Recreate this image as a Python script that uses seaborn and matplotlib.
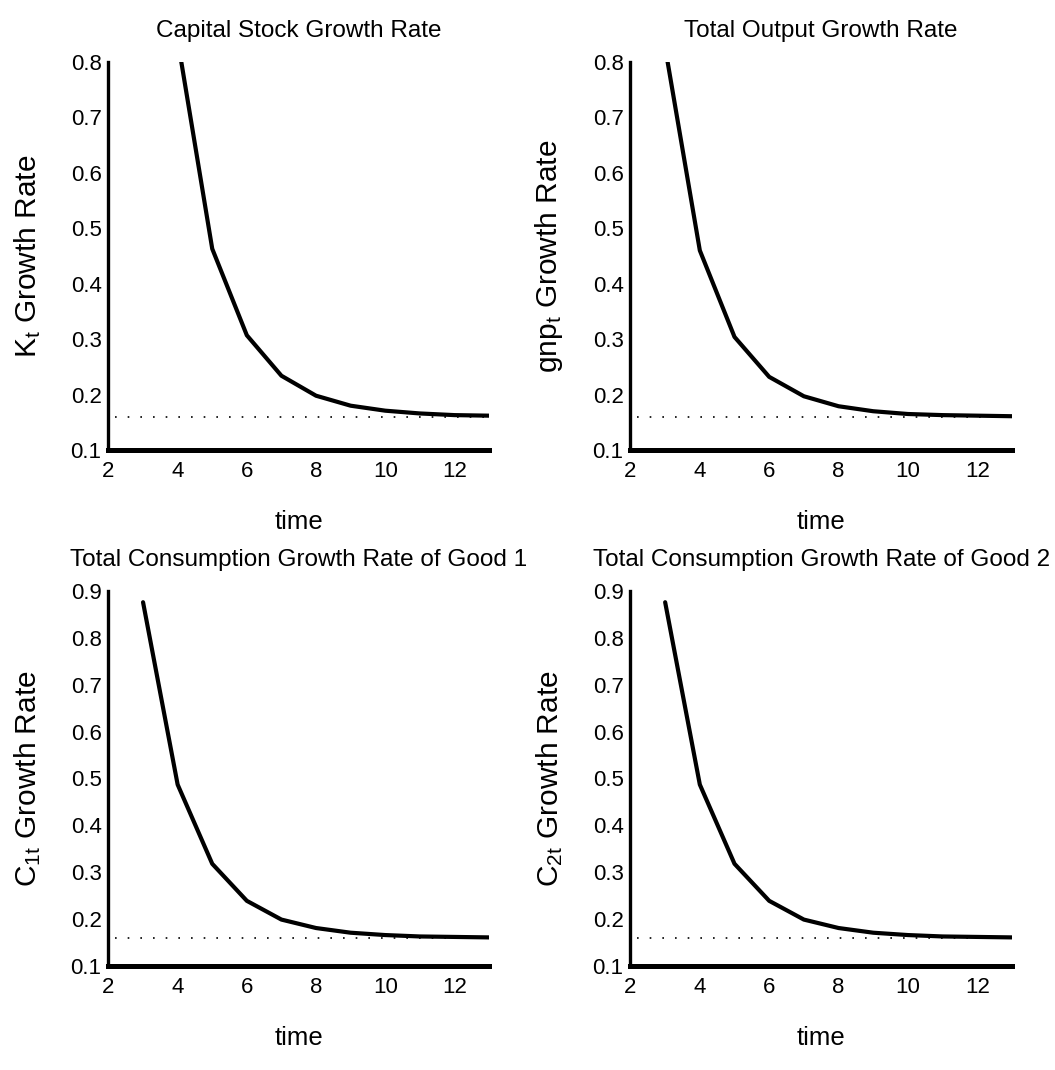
import numpy as np
import pandas as pd
import matplotlib
matplotlib.use("Agg")
import matplotlib.pyplot as plt
import seaborn as sns

# Transition paths of growth rates towards the balanced growth path
t_capital = [4, 5, 6, 7, 8, 9, 10, 11, 12, 13]
g_capital = [0.84, 0.463, 0.307, 0.234, 0.198, 0.180, 0.171, 0.166, 0.163, 0.162]

t_output = [3, 4, 5, 6, 7, 8, 9, 10, 11, 12, 13]
g_output = [0.826, 0.460, 0.304, 0.232, 0.197, 0.179, 0.170, 0.165, 0.163, 0.162, 0.161]

t_cons1 = [3, 4, 5, 6, 7, 8, 9, 10, 11, 12, 13]
g_cons1 = [0.876, 0.487, 0.318, 0.239, 0.199, 0.181, 0.171, 0.166, 0.163, 0.162, 0.161]

t_cons2 = [3, 4, 5, 6, 7, 8, 9, 10, 11, 12, 13]
g_cons2 = [0.876, 0.487, 0.318, 0.239, 0.199, 0.181, 0.171, 0.166, 0.163, 0.162, 0.161]

# balanced growth rate
steady_t = [2.2, 13]
steady_g = [0.16, 0.16]

titles = ["Capital Stock Growth Rate", "Total Output Growth Rate",
          "Total Consumption Growth Rate of Good 1",
          "Total Consumption Growth Rate of Good 2"]
ylabels = [r"$\mathregular{K_t}$ Growth Rate", r"$\mathregular{gnp_t}$ Growth Rate",
           r"$\mathregular{C_{1t}}$ Growth Rate", r"$\mathregular{C_{2t}}$ Growth Rate"]
ylims = [(0.1, 0.8), (0.1, 0.8), (0.1, 0.9), (0.1, 0.9)]
xticks = [2, 4, 6, 8, 10, 12]

sns.set_style("white")
plt.rcParams["font.family"] = ["Liberation Sans", "DejaVu Sans"]
plt.rcParams["mathtext.fontset"] = "custom"
plt.rcParams["mathtext.rm"] = "Liberation Sans"
plt.rcParams["text.color"] = "black"
plt.rcParams["axes.labelcolor"] = "black"

fig = plt.figure(figsize=(10.55, 10.70), dpi=100)
positions = [
    [0.1028, 0.5794, 0.3607, 0.3627],
    [0.5976, 0.5794, 0.3616, 0.3627],
    [0.1028, 0.0972, 0.3607, 0.3505],
    [0.5976, 0.0972, 0.3616, 0.3505],
]
series = [(t_capital, g_capital), (t_output, g_output),
          (t_cons1, g_cons1), (t_cons2, g_cons2)]

for i, (pos, (tt, gg)) in enumerate(zip(positions, series)):
    ax = fig.add_axes(pos)
    df = pd.DataFrame({"time": tt, "rate": gg})
    ss = pd.DataFrame({"time": steady_t, "rate": steady_g})
    sns.lineplot(data=ss, x="time", y="rate", ax=ax, color="black",
                 linewidth=1.2, linestyle=(0, (1.0, 6.6)))
    sns.lineplot(data=df, x="time", y="rate", ax=ax, color="black",
                 linewidth=3.0)
    ax.set_xlim(2, 13)
    ax.set_ylim(*ylims[i])
    lo, hi = ylims[i]
    yt = np.round(np.arange(lo, hi + 0.001, 0.1), 1)
    ax.set_yticks(yt)
    ax.set_yticklabels([f"{v:.1f}" for v in yt])
    ax.set_xticks(xticks)
    for side in ["top", "right"]:
        ax.spines[side].set_visible(False)
    ax.spines["left"].set_linewidth(2.4)
    ax.spines["bottom"].set_linewidth(3.6)
    for side in ["left", "bottom"]:
        ax.spines[side].set_color("black")
        ax.spines[side].set_capstyle("projecting")
    ax.tick_params(axis="x", direction="in", length=5, width=1.6,
                   labelsize=16, colors="black", pad=8)
    ax.tick_params(axis="y", direction="in", length=5, width=1.6,
                   labelsize=16, colors="black", pad=5)
    ax.set_title(titles[i], fontsize=17.5, pad=18)
    ax.set_xlabel("time", fontsize=18.5, labelpad=20)
    ax.set_ylabel(ylabels[i], fontsize=21.5, labelpad=20)

fig.savefig("out.png", dpi=100, facecolor="white")
